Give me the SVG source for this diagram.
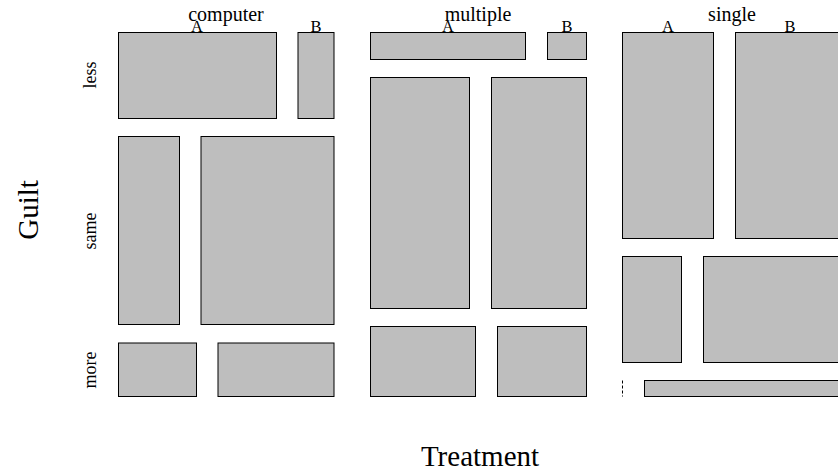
<svg xmlns="http://www.w3.org/2000/svg" width="838" height="473" viewBox="0 0 838 473">
<style>
.t{fill:#bebebe;stroke:#000;stroke-width:1}
.z{stroke:#000;stroke-width:1;stroke-dasharray:3,2;fill:none}
text{font-family:"Liberation Serif","DejaVu Serif",serif;fill:#000}
.g{font-size:20px;text-anchor:middle}
.l{font-size:16.5px;text-anchor:middle}
.r{font-size:18px;text-anchor:middle}
.v{font-size:29px;text-anchor:middle}
</style>
<rect width="838" height="473" fill="#fff"/>
<g id="computer">
<g id="computer-less-A"><rect class="t" x="118.5" y="32.5" width="158" height="86"/></g>
<g id="computer-less-B"><rect class="t" x="298" y="32.5" width="36" height="86"/></g>
<g id="computer-same-A"><rect class="t" x="118.5" y="136.5" width="61" height="188"/></g>
<g id="computer-same-B"><rect class="t" x="201" y="136.5" width="133" height="188"/></g>
<g id="computer-more-A"><rect class="t" x="118.5" y="343" width="78" height="53.5"/></g>
<g id="computer-more-B"><rect class="t" x="218" y="343" width="116" height="53.5"/></g>
</g>
<g id="multiple">
<g id="multiple-less-A"><rect class="t" x="370.5" y="32.5" width="155" height="27"/></g>
<g id="multiple-less-B"><rect class="t" x="547.5" y="32.5" width="39" height="27"/></g>
<g id="multiple-same-A"><rect class="t" x="370.5" y="77.5" width="99" height="231"/></g>
<g id="multiple-same-B"><rect class="t" x="491.5" y="77.5" width="95" height="231"/></g>
<g id="multiple-more-A"><rect class="t" x="370.5" y="326.5" width="105" height="70"/></g>
<g id="multiple-more-B"><rect class="t" x="497.5" y="326.5" width="89" height="70"/></g>
</g>
<g id="single">
<g id="single-less-A"><rect class="t" x="622.5" y="32.5" width="91" height="206"/></g>
<g id="single-less-B"><rect class="t" x="735.5" y="32.5" width="120" height="206"/></g>
<g id="single-same-A"><rect class="t" x="622.5" y="256.5" width="59" height="106"/></g>
<g id="single-same-B"><rect class="t" x="703.5" y="256.5" width="150" height="106"/></g>
<g id="single-more-A"><line class="z" x1="622.5" y1="380.5" x2="622.5" y2="396.5"/></g>
<g id="single-more-B"><rect class="t" x="644.5" y="380.5" width="210" height="16"/></g>
</g>
<g id="connectors"></g>
<g id="labels">
<text class="g" x="226" y="21">computer</text>
<text class="g" x="478" y="21">multiple</text>
<text class="g" x="732" y="21">single</text>
<text class="l" x="197" y="32">A</text>
<text class="l" x="316" y="32">B</text>
<text class="l" x="448" y="32">A</text>
<text class="l" x="567" y="32">B</text>
<text class="l" x="668" y="32">A</text>
<text class="l" x="790" y="32">B</text>
<text class="r" transform="translate(96,75) rotate(-90)">less</text>
<text class="r" transform="translate(96,231) rotate(-90)">same</text>
<text class="r" transform="translate(96,370) rotate(-90)">more</text>
<text class="v" transform="translate(38,210) rotate(-90)">Guilt</text>
<text class="v" x="480" y="466">Treatment</text>
</g>
</svg>
